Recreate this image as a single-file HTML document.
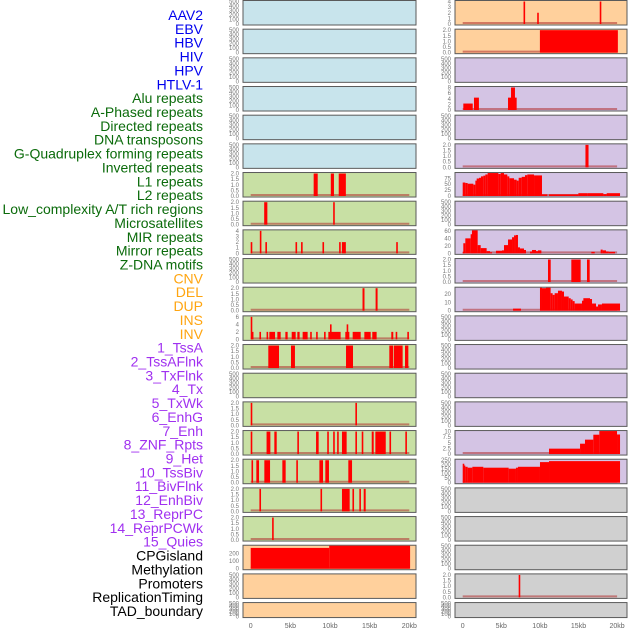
<!DOCTYPE html>
<html><head><meta charset="utf-8"><style>
html,body{margin:0;padding:0;background:#fff;}
svg{display:block;font-family:"Liberation Sans",sans-serif;}
</style></head><body>
<svg id="chart" width="630" height="630" viewBox="0 0 630 630" xmlns="http://www.w3.org/2000/svg"></svg>
<script>
// ---------- data ----------
const trackLabels = ["AAV2","EBV","HBV","HIV","HPV","HTLV-1","Alu repeats","A-Phased repeats","Directed repeats","DNA transposons","G-Quadruplex forming repeats","Inverted repeats","L1 repeats","L2 repeats","Low_complexity A/T rich regions","Microsatellites","MIR repeats","Mirror repeats","Z-DNA motifs","CNV","DEL","DUP","INS","INV","1_TssA","2_TssAFlnk","3_TxFlnk","4_Tx","5_TxWk","6_EnhG","7_Enh","8_ZNF_Rpts","9_Het","10_TssBiv","11_BivFlnk","12_EnhBiv","13_ReprPC","14_ReprPCWk","15_Quies","CPGisland","Methylation","Promoters","ReplicationTiming","TAD_boundary"];
const labelGroups = ["v","v","v","v","v","v","r","r","r","r","r","r","r","r","r","r","r","r","r","s","s","s","s","s","c","c","c","c","c","c","c","c","c","c","c","c","c","c","c","o","o","o","o","o"];
const xTickValues = [0,5,10,15,20];
const xTickLabels = ["0","5kb","10kb","15kb","20kb"];

// spike / block tracks: starts, ends, values (kb, kb, value)
const aluS=[7.94,10.1,11.1], aluE=[8.45,10.5,12.0], aluV=[2,2,2];
const aphS=[1.7,10.4], aphE=[2.1,10.6], aphV=[2,2];
const dirS=[0,1.15,1.85,5.65,6.35,9.05,11.15,11.5,18.35], dirE=[0.2,1.35,2.05,5.85,6.55,9.25,11.35,12.0,18.55], dirV=[2,4,2,2,2,2,2,2,2];
const gqS=[14.1,15.75], gqE=[14.35,16.0], gqV=[2,2];
const invrS=[0,0.1,1.1,2.0,2.35,3.36,4.37,5.17,5.88,6.55,7.5,8.25,9.25,9.79,10.0,11.93,12.1,12.86,14.33,15.33,17.73,18.28,19.75];
const invrE=[0.15,0.35,1.3,2.15,3.07,3.78,4.66,5.67,6.17,7.18,7.65,8.4,9.4,11.34,10.15,12.44,12.25,13.87,15.13,15.88,17.98,18.45,19.9];
const invrV=[6,2,2,2,2,2,2,2,2,2,2,2,2,2,4,2,4,2,2,2,2,2,2];
const l1S=[2.22,5.08,12.02,17.48,18.07,19.46], l1E=[3.57,5.58,12.9,17.98,19.16,19.88], l1V=[2,2,2,2,2,2];
const lowS=[0,13.2], lowE=[0.15,13.35], lowV=[2,2];
const micS=[0,2.0,2.98,5.88,8.24,9.65,10.4,10.9,11.51,13.2,14.0,15.26,15.72,17.5,19.5];
const micE=[0.15,2.48,3.28,6.03,8.57,9.8,10.55,11.05,12.1,13.35,14.15,15.51,17.03,17.65,19.65];
const micV=[2,2,2,2,2,2,2,2,2,2,2,2,2,2,2];
const mirS=[0.1,0.71,1.72,3.99,5.75,8.66,9.41,12.31], mirE=[0.25,1.05,2.44,4.41,5.9,9.12,9.87,12.78], mirV=[2,2,2,2,2,2,2,2];
const mrrS=[1.1,8.8,11.51,12.83,13.7,14.25], mrrE=[1.25,8.95,12.48,12.98,13.85,14.5], mrrV=[2,2,2,2,2,2];
const zdnS=[2.7], zdnE=[2.85], zdnV=[2];
const cnvS=[0,9.9], cnvE=[9.9,20.1], cnvV=[273,310];
const insS=[7.88,9.65,17.75], insE=[8.05,9.8,17.9], insV=[4,2,4];
const invS=[10.0], invE=[20.1], invV=[2];
const tfS=[0.08,1.46,5.87,6.26], tfE=[1.3,2.1,6.99,6.77], tfV=[2.3,4.4,4.4,8];
const txS=[15.9], txE=[16.3], txV=[2];
const enhS=[0,0.08,0.34,1.03,1.20,1.94,2.33,3.10,3.54,4.31,5.09,5.35,5.87,6.39,6.65,6.90,7.16,7.42,7.94,8.72,8.98,9.50,9.75,16.66,17.87,18.13,18.56,18.91];
const enhE=[0.08,0.34,1.03,1.20,1.94,2.33,3.10,3.54,3.80,5.09,5.35,5.87,6.39,6.65,6.90,7.16,7.42,7.94,8.20,8.98,9.50,9.75,10.19,17.10,18.13,18.56,18.91,19.73];
const enhV=[3.6,27,40,51,62,22,14,6,3,7,8,22,37,43,48,49,16,13,9,5,9,6,8,4,10,8,5,4];
const znfS=[11.05,14.07,16.1], znfE=[11.4,15.28,16.45], znfV=[2,2,2];
const promS=[7.25], promE=[7.45], promV=[2];
// step histograms: edges (kb) + values
const txwkEdges1=[0,0.34,0.64,1.38,1.64,1.81,2.11,2.37,2.67,2.93,3.23,4.62,4.92,5.35,5.78,6.04,6.65,6.99,7.25,7.64,8.07,8.37,9.24,10.27,10.96];
const txwkVals1=[57,55,52,48,65,74,77,83,86,91,97,93,97,91,83,75,69,65,77,81,88,91,87,7];
const txwkEdges2=[11.18,14.98,16.14,18.22,18.65,20.38];
const txwkVals2=[7,12,12,8,12];
const hetEdges1=[6.52,7.55], hetVals1=[2.5];
const hetEdges2=[10.01,10.27,10.79,11.39,11.65,11.91,12.34,12.86,13.12,13.73,13.99,14.24,14.50,15.45,15.63,16.49,16.75,17.27,17.53,18.04,20.38];
const hetVals2=[28.6,27,28.6,21,19,21,24,23,17,15,13.5,11.5,8.6,12,15,14,8.6,5,7.5,8.6];
const pcwkEdges=[11.18,15.2,15.84,16.92,17.7,19.99,20.38], pcwkVals=[2.4,4.6,6.4,8.6,10.4,8.7];
const quiesEdges=[0,0.08,0.34,0.64,1.25,2.67,5.95,6.90,7.16,10.01,11.18,20.38], quiesVals=[211,191,177,167,177,167,156,167,177,229,240];

// y tick sets
const ticks500=[0,100,200,300,400,500], ticks2=[0,0.5,1,1.5,2];

// ---------- rendering ----------
const NS="http://www.w3.org/2000/svg";
const svg=document.getElementById('chart');
function mk(tag,attrs,parent){const e=document.createElementNS(NS,tag);for(const k in attrs)e.setAttribute(k,attrs[k]);(parent||svg).appendChild(e);return e;}
const groupColor={v:"#0000ee",r:"#0b6b0b",s:"#ffa510",c:"#a030f0",o:"#000000"};
const bgColor={v:"#c8e4ec",r:"#c8e0a4",s:"#ffd09c",c:"#d4c4e4",o:"#d0d0d0"};
const PITCH=28.67;
const cols=[{x:243,w:173,x0:250.7,k:7.93},{x:455,w:172,x0:462.7,k:7.72}];

// labels
trackLabels.forEach((t,i)=>{
  const el=mk('text',{x:203,y:20+i*13.86,'text-anchor':'end','font-size':'14',fill:groupColor[labelGroups[i]]});
  
  
  el.textContent=t;
});

function segsFromEdges(edges,vals){const s=[],e=[],v=[];for(let i=0;i<vals.length;i++){s.push(edges[i]);e.push(edges[i+1]);v.push(vals[i]);}return [s,e,v];}
function fmt(t,step){return step<1?t.toFixed(1):String(t);}

function panel(idx,cfg){
  const col=idx<22?0:1, row=idx%22, C=cols[col];
  const top=0.5+row*PITCH, h=(row===21)?15:24.5;
  const g=mk('g',{});
  
  
  const bg=mk('rect',{x:C.x,y:top,width:C.w,height:h,fill:bgColor[labelGroups[idx]],stroke:"#5a5a5a",'stroke-width':1},g);
  
  
  const ymax=cfg.ymax||500, ticks=cfg.ticks||ticks500;
  const span=h-2, base=top+h-1;
  const yOf=v=>base-Math.min(v,ymax*1.05)/ymax*span;
  const xOf=kb=>C.x0+kb*C.k;
  const step=ticks.length>1?ticks[1]-ticks[0]:1;
  ticks.forEach(t=>{
    const tx=mk('text',{x:C.x-4,y:yOf(t)+2,'text-anchor':'end','font-size':'6',fill:"#777"},g);
    
    
    tx.textContent=fmt(t,step);
  });
  if(cfg.s){
    const bl=mk('line',{x1:xOf(0),x2:xOf(20),y1:base-1,y2:base-1,stroke:"#b03030",'stroke-opacity':0.55,'stroke-width':2},g);
    
    
    const clipTop=top+0.5;
    for(let i=0;i<cfg.s.length;i++){
      const x1=xOf(cfg.s[i]), x2=Math.max(xOf(cfg.e[i]),x1+1.6);
      const y=Math.max(yOf(cfg.v[i]),clipTop);
      const r=mk('rect',{x:x1,y:y,width:x2-x1,height:base-y,fill:"#ff0000"},g);
      
      
    }
  }
}
function cat(...lists){const s=[],e=[],v=[];lists.forEach(l=>{s.push(...l[0]);e.push(...l[1]);v.push(...l[2]);});return {s,e,v};}

const cfgs={};
cfgs[6]={s:aluS,e:aluE,v:aluV,ymax:2,ticks:ticks2};
cfgs[7]={s:aphS,e:aphE,v:aphV,ymax:2,ticks:ticks2};
cfgs[8]={s:dirS,e:dirE,v:dirV,ymax:4,ticks:[0,1,2,3,4]};
cfgs[10]={s:gqS,e:gqE,v:gqV,ymax:2,ticks:ticks2};
cfgs[11]={s:invrS,e:invrE,v:invrV,ymax:6,ticks:[0,2,4,6]};
cfgs[12]={s:l1S,e:l1E,v:l1V,ymax:2,ticks:ticks2};
cfgs[14]={s:lowS,e:lowE,v:lowV,ymax:2,ticks:ticks2};
cfgs[15]={s:micS,e:micE,v:micV,ymax:2,ticks:ticks2};
cfgs[16]={s:mirS,e:mirE,v:mirV,ymax:2,ticks:ticks2};
cfgs[17]={s:mrrS,e:mrrE,v:mrrV,ymax:2,ticks:ticks2};
cfgs[18]={s:zdnS,e:zdnE,v:zdnV,ymax:2,ticks:ticks2};
cfgs[19]={s:cnvS,e:cnvE,v:cnvV,ymax:295,ticks:[0,100,200]};
cfgs[22]={s:insS,e:insE,v:insV,ymax:4,ticks:[0,1,2,3,4]};
cfgs[23]={s:invS,e:invE,v:invV,ymax:2,ticks:ticks2};
cfgs[25]={s:tfS,e:tfE,v:tfV,ymax:8,ticks:[0,2,4,6,8]};
cfgs[27]={s:txS,e:txE,v:txV,ymax:2,ticks:ticks2};
cfgs[28]=Object.assign(cat(segsFromEdges(txwkEdges1,txwkVals1),segsFromEdges(txwkEdges2,txwkVals2)),{ymax:95,ticks:[0,25,50,75]});
cfgs[30]={s:enhS,e:enhE,v:enhV,ymax:60,ticks:[0,20,40,60]};
cfgs[31]={s:znfS,e:znfE,v:znfV,ymax:2,ticks:ticks2};
cfgs[32]=Object.assign(cat(segsFromEdges(hetEdges1,hetVals1),segsFromEdges(hetEdges2,hetVals2)),{ymax:27,ticks:[0,10,20]});
cfgs[37]=Object.assign(cat(segsFromEdges(pcwkEdges,pcwkVals)),{ymax:10,ticks:[0,2.5,5,7.5,10]});
cfgs[38]=Object.assign(cat(segsFromEdges(quiesEdges,quiesVals)),{ymax:250,ticks:[0,50,100,150,200,250]});
cfgs[42]={s:promS,e:promE,v:promV,ymax:2,ticks:ticks2};

for(let i=0;i<44;i++) panel(i,cfgs[i]||{});

// x axes
cols.forEach((C,ci)=>{
  xTickValues.forEach((v,j)=>{
    const t=mk('text',{x:C.x0+v*C.k,y:628,'text-anchor':'middle','font-size':'7',fill:"#666"});
    
    
    t.textContent=xTickLabels[j];
  });
});
</script>
</body></html>
